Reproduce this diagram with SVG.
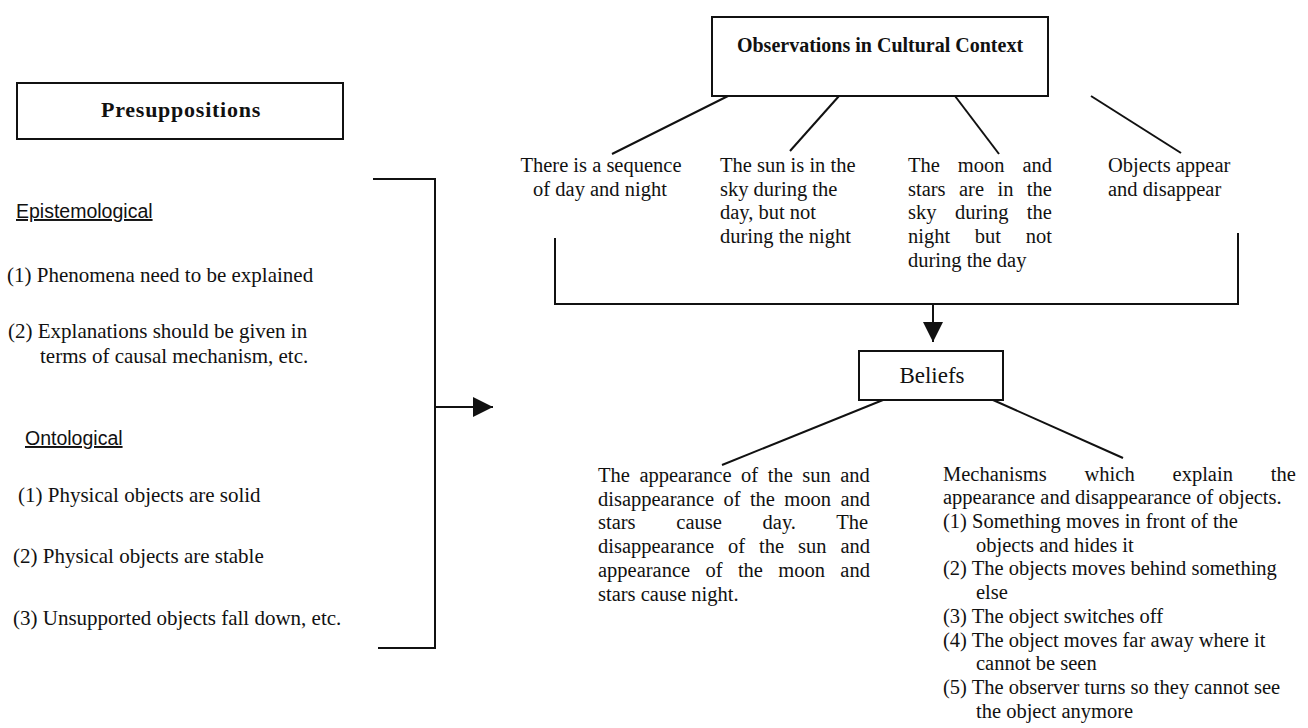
<svg xmlns="http://www.w3.org/2000/svg" width="1308" height="728" viewBox="0 0 1308 728">
<style>
.t{font-family:"Liberation Serif","Times New Roman",serif;fill:#111}
.l{font-size:21px}
.r{font-size:20.5px}
.b{font-weight:bold}
.s{font-family:"Liberation Sans",Arial,sans-serif;font-size:19.5px;fill:#111;text-decoration:underline}
.box{fill:#fff;stroke:#111;stroke-width:2}
.ln{stroke:#111;stroke-width:2;fill:none}
</style>
<defs>
<marker id="ah" markerUnits="userSpaceOnUse" markerWidth="20" markerHeight="20" refX="20" refY="10" orient="auto">
<path d="M0,0 L20,10 L0,20 z" fill="#111"/>
</marker>
</defs>
<rect width="1308" height="728" fill="#fff"/>

<g id="connectors">
<path class="ln" d="M373,179 H435 V648 H378"/>
<line class="ln" x1="435" y1="407" x2="493" y2="407" marker-end="url(#ah)"/>
<line class="ln" x1="728" y1="96" x2="612" y2="154"/>
<line class="ln" x1="839" y1="96" x2="790" y2="151"/>
<line class="ln" x1="955" y1="96" x2="999" y2="154"/>
<line class="ln" x1="1091" y1="96" x2="1181" y2="153"/>
<path class="ln" d="M555,238 V304 H1238 V233"/>
<line class="ln" x1="933" y1="304" x2="933" y2="342" marker-end="url(#ah)"/>
<line class="ln" x1="883" y1="400" x2="722" y2="465"/>
<line class="ln" x1="993" y1="400" x2="1123" y2="458"/>
</g>

<g id="presuppositions">
<rect class="box" x="17" y="83" width="326" height="56"/>
<text class="t b" x="181" y="117" text-anchor="middle" font-size="22" letter-spacing="0.75">Presuppositions</text>
</g>

<g id="presupposition-list">
<text class="s" x="16" y="218">Epistemological</text>
<text class="t l" x="7" y="282">(1) Phenomena need to be explained</text>
<text class="t l" x="8" y="338">(2) Explanations should be given in</text>
<text class="t l" x="40" y="363">terms of causal mechanism, etc.</text>
<text class="s" x="25" y="445">Ontological</text>
<text class="t l" x="18" y="502">(1) Physical objects are solid</text>
<text class="t l" x="13" y="563">(2) Physical objects are stable</text>
<text class="t l" x="13" y="625">(3) Unsupported objects fall down, etc.</text>
</g>

<g id="observations">
<rect class="box" x="712" y="17" width="336" height="79"/>
<text class="t b" x="880" y="52" text-anchor="middle" font-size="20">Observations in Cultural Context</text>
</g>

<g id="obs-sequence">
<text class="t r" x="601" y="172" text-anchor="middle">There is a sequence</text>
<text class="t r" x="600" y="195.7" text-anchor="middle">of day and night</text>
</g>

<g id="obs-sun">
<text class="t r" x="720" y="172">The sun is in the</text>
<text class="t r" x="720" y="195.7">sky during the</text>
<text class="t r" x="720" y="219.4">day, but not</text>
<text class="t r" x="720" y="243.1">during the night</text>
</g>

<g id="obs-moon">
<text class="t r" x="908" y="172" word-spacing="12.8">The moon and</text>
<text class="t r" x="908" y="195.7" word-spacing="8.3">stars are in the</text>
<text class="t r" x="908" y="219.4" word-spacing="13.3">sky during the</text>
<text class="t r" x="908" y="243.1" word-spacing="19.6">night but not</text>
<text class="t r" x="908" y="266.8">during the day</text>
</g>

<g id="obs-objects">
<text class="t r" x="1108" y="172">Objects appear</text>
<text class="t r" x="1108" y="195.7">and disappear</text>
</g>

<g id="beliefs">
<rect class="box" x="859" y="351" width="144" height="49"/>
<text class="t" x="932" y="383" text-anchor="middle" font-size="23">Beliefs</text>
</g>

<g id="belief-day-night">
<text class="t r" x="598" y="482" word-spacing="4.4">The appearance of the sun and</text>
<text class="t r" x="598" y="505.7" word-spacing="4.25">disappearance of the moon and</text>
<text class="t r" x="598" y="529.4" word-spacing="35.6">stars cause day. The</text>
<text class="t r" x="598" y="553.1" word-spacing="8.8">disappearance of the sun and</text>
<text class="t r" x="598" y="576.8" word-spacing="10.2">appearance of the moon and</text>
<text class="t r" x="598" y="600.5">stars cause night.</text>
</g>

<g id="belief-mechanisms">
<text class="t r" x="943" y="480.6" word-spacing="32.8">Mechanisms which explain the</text>
<text class="t r" x="943" y="504.3">appearance and disappearance of objects.</text>
<text class="t r" x="943" y="528">(1) Something moves in front of the</text>
<text class="t r" x="976" y="551.7">objects and hides it</text>
<text class="t r" x="943" y="575.4">(2) The objects moves behind something</text>
<text class="t r" x="976" y="599.1">else</text>
<text class="t r" x="943" y="622.8">(3) The object switches off</text>
<text class="t r" x="943" y="646.5">(4) The object moves far away where it</text>
<text class="t r" x="976" y="670.2">cannot be seen</text>
<text class="t r" x="943" y="693.9">(5) The observer turns so they cannot see</text>
<text class="t r" x="976" y="717.6">the object anymore</text>
</g>
</svg>
